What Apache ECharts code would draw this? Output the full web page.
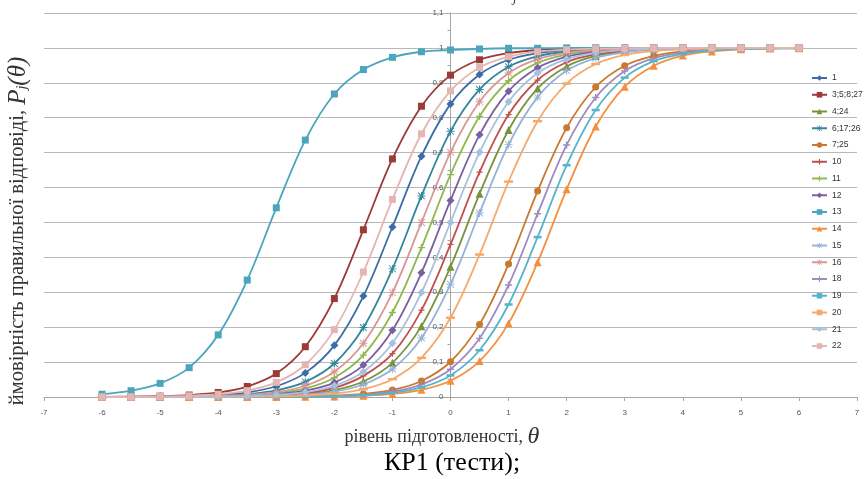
<!DOCTYPE html>
<html>
<head>
<meta charset="utf-8">
<script src="https://cdn.jsdelivr.net/npm/echarts@6/dist/echarts.min.js"></script>
<style>html,body{margin:0;padding:0;background:#fff}#c{width:865px;height:479px}</style>
</head>
<body>
<div id="c"></div>
<script>
const theta = [-6,-5.5,-5,-4.5,-4,-3.5,-3,-2.5,-2,-1.5,-1,-0.5,0,0.5,1,1.5,2,2.5,3,3.5,4,4.5,5,5.5,6];
const xTicks = [-7,-6,-5,-4,-3,-2,-1,0,1,2,3,4,5,6,7];
const seriesNames = ['1','3;5;8;27','4;24','6;17;26','7;25','10','11','12','13','14','15','16','18','19','20','21','22'];

const s1  = [0.0002,0.0005,0.0011,0.0025,0.0058,0.0134,0.0308,0.0691,0.148,0.289,0.487,0.690,0.839,0.924,0.966,0.985,0.994,0.997,0.999,0.999,1,1,1,1,1];
const s3  = [0.0004,0.001,0.0024,0.0056,0.013,0.030,0.067,0.144,0.282,0.479,0.682,0.833,0.922,0.966,0.985,0.994,0.997,0.999,0.999,1,1,1,1,1,1];
const s4  = [0,0.0001,0.0001,0.0003,0.0007,0.0015,0.0036,0.0084,0.0195,0.0444,0.098,0.203,0.373,0.582,0.765,0.884,0.947,0.977,0.990,0.996,0.998,0.999,1,1,1];
const s6  = [0.0001,0.0003,0.0006,0.0015,0.0035,0.0082,0.019,0.0433,0.0959,0.199,0.367,0.576,0.761,0.881,0.946,0.976,0.990,0.996,0.998,0.999,1,1,1,1,1];
const s7  = [0,0,0,0.0001,0.0001,0.0003,0.0007,0.0016,0.0037,0.0087,0.0201,0.0459,0.101,0.208,0.381,0.590,0.771,0.888,0.949,0.977,0.990,0.996,0.998,0.999,1];
const s10 = [0,0.0001,0.0002,0.0004,0.0009,0.002,0.0047,0.0111,0.0259,0.0605,0.124,0.249,0.437,0.644,0.809,0.908,0.959,0.982,0.992,0.997,0.999,0.999,1,1,1];
const s11 = [0.0001,0.0002,0.0004,0.0008,0.0019,0.0045,0.0106,0.0244,0.0553,0.120,0.242,0.428,0.637,0.804,0.906,0.957,0.981,0.992,0.997,0.998,0.999,1,1,1,1];
const s12 = [0,0.0001,0.0003,0.0006,0.0014,0.0034,0.0078,0.0181,0.0413,0.0915,0.191,0.356,0.563,0.751,0.876,0.943,0.975,0.989,0.995,0.998,0.999,1,1,1,1];
const s13 = [0.008,0.018,0.039,0.084,0.178,0.335,0.542,0.736,0.868,0.938,0.973,0.989,0.994,0.997,0.999,0.999,1,1,1,1,1,1,1,1,1];
const s14 = [0,0,0,0,0.0001,0.0001,0.0003,0.0007,0.0016,0.0038,0.0089,0.0205,0.0467,0.103,0.211,0.386,0.595,0.775,0.889,0.949,0.978,0.990,0.996,0.998,0.999];
const s15 = [0,0,0.0001,0.0002,0.0005,0.0012,0.0029,0.0067,0.0157,0.0359,0.080,0.169,0.323,0.527,0.723,0.859,0.935,0.971,0.987,0.995,0.998,0.999,1,1,1];
const s16 = [0.0001,0.0002,0.0005,0.0011,0.0026,0.0061,0.0141,0.0323,0.0724,0.154,0.299,0.5,0.701,0.846,0.928,0.968,0.986,0.994,0.997,0.999,1,1,1,1,1];
const s18 = [0,0,0,0,0.0001,0.0002,0.0005,0.0012,0.0029,0.0067,0.0156,0.0357,0.0796,0.168,0.321,0.525,0.722,0.858,0.934,0.971,0.987,0.995,0.998,0.999,1];
const s19 = [0,0,0,0,0.0001,0.0002,0.0004,0.0009,0.0022,0.0051,0.0119,0.0274,0.0618,0.134,0.265,0.458,0.664,0.822,0.915,0.962,0.983,0.993,0.997,0.999,0.999];
const s20 = [0,0,0.0001,0.0001,0.0003,0.0008,0.0018,0.0042,0.0097,0.0224,0.051,0.112,0.227,0.408,0.617,0.790,0.898,0.954,0.980,0.991,0.996,0.998,0.999,1,1];
const s21 = [0,0.0001,0.0002,0.0005,0.0011,0.0026,0.0061,0.0141,0.0323,0.0724,0.154,0.299,0.5,0.701,0.846,0.928,0.968,0.986,0.994,0.997,0.999,1,1,1,1];
const s22 = [0.0003,0.0006,0.0015,0.0034,0.0079,0.0183,0.0418,0.0925,0.193,0.358,0.566,0.754,0.877,0.944,0.975,0.989,0.995,0.998,0.999,1,1,1,1,1,1];

const values = [s1,s3,s4,s6,s7,s10,s11,s12,s13,s14,s15,s16,s18,s19,s20,s21,s22];

const PLUS = 'path://M4,0h2v4h4v2h-4v4h-2v-4h-4v-2h4z';
const DASH = 'path://M0,0h10v3h-10z';
const STAR = 'path://M4.4,0h1.2v4.4h4.4v1.2h-4.4v4.4h-1.2v-4.4h-4.4v-1.2h4.4z M1.2,0.4L9.6,8.8L8.8,9.6L0.4,1.2z M8.8,0.4L9.6,1.2L1.2,9.6L0.4,8.8z';

const styles = [
  {c:'#3c6ca6', s:'diamond', z:8},
  {c:'#9b3a37', s:'rect', z:7},
  {c:'#77933c', s:'triangle', z:8},
  {c:'#31859c', s:STAR, z:8},
  {c:'#c8782f', s:'circle', z:7},
  {c:'#c0504d', s:PLUS, z:6},
  {c:'#8fb84f', s:PLUS, z:7},
  {c:'#7a5fa0', s:'diamond', z:8},
  {c:'#4aa5bd', s:'rect', z:7},
  {c:'#f29040', s:'triangle', z:8},
  {c:'#95b3d7', s:STAR, z:8},
  {c:'#d99694', s:STAR, z:8},
  {c:'#9f8bbf', s:PLUS, z:7},
  {c:'#55b4cc', s:DASH, z:[8,2.5]},
  {c:'#f6a96b', s:DASH, z:[9,2.5]},
  {c:'#a7c0de', s:'diamond', z:8},
  {c:'#e5b5b3', s:'rect', z:7}
];

const series = seriesNames.map((name, i) => ({
  name: name,
  type: 'line',
  smooth: 0.35,
  data: theta.map((t, k) => [t, values[i][k]]),
  symbol: styles[i].s,
  symbolSize: styles[i].z,
  showSymbol: true,
  lineStyle: {color: styles[i].c, width: 1.8},
  itemStyle: {color: styles[i].c, borderWidth: 0},
  emphasis: {disabled: true}
}));

const gridLeft = 44, gridRight = 8;
const plotW = 865 - gridLeft - gridRight;
const zeroOffset = -plotW * (0 - xTicks[0]) / (xTicks[xTicks.length - 1] - xTicks[0]);

const chart = echarts.init(document.getElementById('c'), null, {renderer: 'canvas'});
chart.setOption({
  animation: false,
  backgroundColor: '#ffffff',
  grid: {left: gridLeft, right: gridRight, top: 13, bottom: 82, containLabel: false},
  xAxis: {
    type: 'value', min: xTicks[0], max: xTicks[xTicks.length - 1], interval: 1,
    axisLine: {lineStyle: {color: '#a6a6a6', width: 1}},
    axisTick: {show: true, length: 4, lineStyle: {color: '#a6a6a6'}},
    axisLabel: {fontSize: 8, color: '#555', margin: 12, fontFamily: 'Liberation Sans'},
    splitLine: {show: false}
  },
  yAxis: [{
    type: 'value', min: 0, max: 1.1, interval: 0.1,
    axisLine: {show: false},
    axisTick: {show: false},
    axisLabel: {show: false},
    splitLine: {show: true, lineStyle: {color: '#b8b8b8', width: 1}}
  }, {
    type: 'value', min: 0, max: 1.1, interval: 0.1, position: 'left', offset: zeroOffset,
    axisLine: {show: true, onZero: false, lineStyle: {color: '#a6a6a6', width: 1}},
    axisTick: {show: true, length: 4, lineStyle: {color: '#a6a6a6'}},
    minorTick: {show: true, splitNumber: 2, length: 3, lineStyle: {color: '#a6a6a6'}},
    axisLabel: {fontSize: 8, color: '#555', margin: 7, fontFamily: 'Liberation Sans',
      formatter: v => String(+v.toFixed(1)).replace('.', ',')},
    splitLine: {show: false}
  }],
  legend: {
    orient: 'vertical', left: 811, top: 73, padding: 0,
    itemWidth: 15, itemHeight: 7, itemGap: 6.75,
    data: seriesNames,
    textStyle: {fontSize: 8.5, color: '#333', fontFamily: 'Liberation Sans', lineHeight: 10},
    selectedMode: false
  },
  graphic: [
    {type: 'text', x: 442, y: 437, style: {
      text: '{a|рівень підготовленості, }{t|θ}',
      align: 'center', verticalAlign: 'middle',
      rich: {
        a: {fontFamily: 'Liberation Serif', fontSize: 18, fill: '#333'},
        t: {fontFamily: 'Liberation Serif', fontStyle: 'italic', fontSize: 24, fill: '#333'}
      }}},
    {type: 'text', x: 452, y: 463, style: {
      text: 'КР1 (тести);', fontFamily: 'Liberation Serif', fontSize: 26, fill: '#000',
      align: 'center', verticalAlign: 'middle'}},
    {type: 'text', x: 18, y: 231, rotation: Math.PI / 2, style: {
      text: '{a|ймовірність правильної відповіді, }{p|P}{s|j}{p|(θ)}',
      align: 'center', verticalAlign: 'middle',
      rich: {
        a: {fontFamily: 'Liberation Serif', fontSize: 20.5, fill: '#333'},
        p: {fontFamily: 'Liberation Serif', fontStyle: 'italic', fontSize: 25, fill: '#333'},
        s: {fontFamily: 'Liberation Serif', fontStyle: 'italic', fontSize: 14, fill: '#333', padding: [9, 0, 0, 0]}
      }}},
    {type: 'text', x: 513, y: -9, style: {
      text: 'j', fontFamily: 'Liberation Serif', fontStyle: 'italic', fontSize: 14, fill: '#333'}}
  ],
  series: series
});
</script>
</body>
</html>
